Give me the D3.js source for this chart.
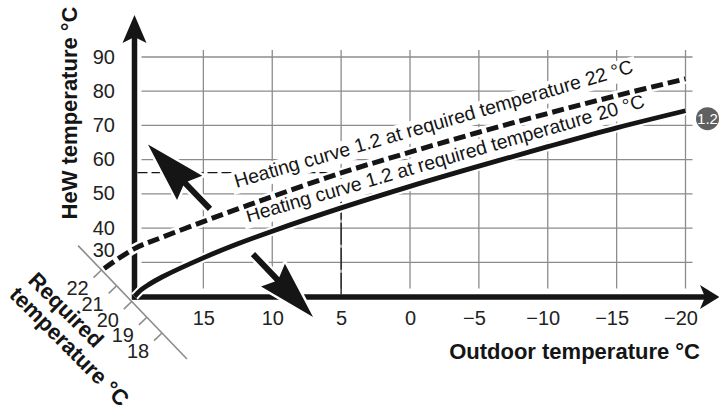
<!DOCTYPE html>
<html><head><meta charset="utf-8">
<script src="https://cdn.jsdelivr.net/npm/d3@7"></script>
<style>
html,body{margin:0;padding:0;background:#fff;}
svg{display:block;font-family:"Liberation Sans",Arial,Helvetica,sans-serif;}
</style></head><body>
<svg id="chart" width="719" height="410"></svg>
<script>
// ---- data ----
const outdoorTicks = [15, 10, 5, 0, -5, -10, -15, -20];
const flowTicks = [30, 40, 50, 60, 70, 80, 90];
const requiredTicks = [22, 21, 20, 19, 18];
const outdoor20 = [20, 19.5, 19, 18, 15, 12.5, 10, 5, 0, -5, -10, -15, -20];
const flow20 = [20, 22, 23.4, 25.7, 31.3, 35.4, 39.1, 45.9, 52.2, 58.1, 63.8, 69.3, 74.3];
const outdoor22 = [22.2, 20, 18, 15, 12.5, 10, 5, 0, -5, -10, -15, -20];
const flow22 = [28.2, 34, 37.3, 41.9, 45.6, 49.2, 56.1, 62.2, 68, 73.5, 78.7, 83.6];
const refOutdoor = 5, refFlow = 56.2;
const label22 = "Heating curve 1.2 at required temperature 22 °C";
const label20 = "Heating curve 1.2 at required temperature 20 °C";
const badgeText = "1.2";
const yTitle = "HeW temperature °C";
const xTitle = "Outdoor temperature °C";
const reqTitle1 = "Required", reqTitle2 = "temperature °C";

// ---- scales ----
const svg = d3.select("#chart");
const x = d3.scaleLinear().domain([20, -20]).range([134.5, 685.5]);
const y = d3.scaleLinear().domain([20, 90]).range([296.5, 57]);
const gridCol = "#8c8c8c", ink = "#151515";

// grid
const grid = svg.append("g");
grid.selectAll("line.h").data(flowTicks).join("line").attr("class","h")
  .attr("x1", x(20) + 7).attr("x2", x(-20) + 7)
  .attr("y1", d => y(d)).attr("y2", d => y(d))
  .attr("stroke", gridCol).attr("stroke-width", 1.3);
grid.selectAll("line.v").data(outdoorTicks).join("line").attr("class","v")
  .attr("x1", d => x(d)).attr("x2", d => x(d))
  .attr("y1", y(90) - 7).attr("y2", y(20) - 8)
  .attr("stroke", gridCol).attr("stroke-width", 1.3);

// reference dashed lines
svg.append("line").attr("x1", x(20) + 3).attr("x2", x(refOutdoor))
  .attr("y1", y(refFlow)).attr("y2", y(refFlow))
  .attr("stroke", ink).attr("stroke-width", 1.3).attr("stroke-dasharray", "10,4");
svg.append("line").attr("x1", x(refOutdoor)).attr("x2", x(refOutdoor))
  .attr("y1", y(refFlow)).attr("y2", y(20) - 2)
  .attr("stroke", ink).attr("stroke-width", 1.3).attr("stroke-dasharray", "22,3");

// axis tick labels
const yAx = svg.append("g").attr("transform", "translate(118,0)")
  .call(d3.axisLeft(y).tickValues(flowTicks).tickSize(0).tickPadding(3));
yAx.select(".domain").remove();
yAx.selectAll("text").attr("font-size", 20).attr("fill", "#222")
  .attr("font-family", "Liberation Sans, Arial, sans-serif")
  .attr("dy", d => d === 30 ? "-0.3em" : "0.3em");

const xAx = svg.append("g").attr("transform", "translate(0,311)")
  .call(d3.axisBottom(x).tickValues(outdoorTicks).tickSize(0).tickPadding(0)
    .tickFormat(d => d < 0 ? "\u2212" + Math.abs(d) : String(d)));
xAx.select(".domain").remove();
xAx.selectAll("text").attr("font-size", 20).attr("fill", "#222")
  .attr("font-family", "Liberation Sans, Arial, sans-serif")
  .attr("dx", d => d < 0 ? -5 : 0);

// curve labels with white boxes
function curveLabel(txt, x0, y0, ang) {
  const g = svg.append("g").attr("transform", `translate(${x0},${y0}) rotate(${ang})`);
  const rect = g.append("rect").attr("fill", "#fff");
  const t = g.append("text").attr("font-size", 19.4).attr("fill", ink).text(txt);
  const L = t.node().getComputedTextLength();
  rect.attr("x", -4).attr("y", -16).attr("width", L + 8).attr("height", 22);
}
curveLabel(label22, 236.5, 188, -16.2);
curveLabel(label20, 248, 222.5, -16.2);

// axes lines
const axW = 5.5;
svg.append("line").attr("x1", x(20)).attr("x2", x(20)).attr("y1", y(20) + 3).attr("y2", 36)
  .attr("stroke", ink).attr("stroke-width", axW);
svg.append("polygon").attr("fill", ink)
  .attr("points", [[x(20), 15], [x(20) - 12, 43], [x(20), 37], [x(20) + 12, 43]].join(" "));
svg.append("line").attr("x1", x(20) - 2.5).attr("x2", 706).attr("y1", y(20) + 0.5).attr("y2", y(20) + 0.5)
  .attr("stroke", ink).attr("stroke-width", axW);
svg.append("polygon").attr("fill", ink)
  .attr("points", [[719.5, y(20) + 0.5], [700, y(20) - 11.5], [705, y(20) + 0.5], [700, y(20) + 12.5]].join(" "));

// curves
const line = d3.line().x(d => x(d[0])).y(d => y(d[1])).curve(d3.curveCatmullRom.alpha(0.5));
const c22 = outdoor22.map((o, i) => [o, flow22[i]]);
const c20 = outdoor20.map((o, i) => [o, flow20[i]]);
svg.append("path").attr("d", line(c22)).attr("fill", "none").attr("stroke", "#fff").attr("stroke-width", 10);
svg.append("path").attr("d", line(c20)).attr("fill", "none").attr("stroke", "#fff").attr("stroke-width", 9);
svg.append("path").attr("d", line(c22)).attr("fill", "none").attr("stroke", ink)
  .attr("stroke-width", 5).attr("stroke-dasharray", "12,5");
svg.append("path").attr("d", line(c20)).attr("fill", "none").attr("stroke", ink)
  .attr("stroke-width", 4.8).attr("stroke-linejoin", "round");

// big arrows
function arrow(tail, tip, headLen, halfW, notch, sw) {
  const dx = tip[0] - tail[0], dy = tip[1] - tail[1], L = Math.hypot(dx, dy);
  const ux = dx / L, uy = dy / L, nx = -uy, ny = ux;
  const bx = tip[0] - ux * headLen, by = tip[1] - uy * headLen;
  const mx = tip[0] - ux * (headLen - notch), my = tip[1] - uy * (headLen - notch);
  const pts = [
    [tail[0] + nx * sw / 2, tail[1] + ny * sw / 2],
    [mx + nx * sw / 2, my + ny * sw / 2],
    [bx + nx * halfW, by + ny * halfW],
    tip,
    [bx - nx * halfW, by - ny * halfW],
    [mx - nx * sw / 2, my - ny * sw / 2],
    [tail[0] - nx * sw / 2, tail[1] - ny * sw / 2]
  ];
  svg.append("polygon").attr("points", pts.map(p => p.join(",")).join(" "))
    .attr("fill", ink).attr("stroke", "#fff").attr("stroke-width", 5)
    .attr("stroke-linejoin", "round").attr("paint-order", "stroke");
}
arrow([x(14.52), y(45.6)], [x(19.02), y(64.4)], 60, 17.5, 6, 6);
arrow([x(11.4), y(32.4)], [x(7.04), y(14.0)], 58, 16.5, 6, 6);

// required temperature diagonal scale
const o0 = [x(20), y(20)];
const p22 = [o0[0] - 33, o0[1] - 26.5], p18 = [o0[0] + 27.5, o0[1] + 36.5];
const rq = d3.scaleLinear().domain([22, 18]).range([0, 1]);
const P = r => [p22[0] + (p18[0] - p22[0]) * rq(r), p22[1] + (p18[1] - p22[1]) * rq(r)];
const a = P(23.55), b = P(16.35);
svg.append("line").attr("x1", a[0]).attr("y1", a[1]).attr("x2", b[0]).attr("y2", b[1])
  .attr("stroke", gridCol).attr("stroke-width", 1.6);
const ddx = p18[0] - p22[0], ddy = p18[1] - p22[1], dl = Math.hypot(ddx, ddy);
const nX = -ddy / dl, nY = ddx / dl;
svg.append("g").selectAll("line").data(requiredTicks).join("line")
  .attr("x1", d => P(d)[0]).attr("y1", d => P(d)[1])
  .attr("x2", d => P(d)[0] - Math.abs(nX) * 11).attr("y2", d => P(d)[1] + Math.abs(nY) * 11)
  .attr("stroke", gridCol).attr("stroke-width", 1.6);
svg.append("g").selectAll("text").data(requiredTicks).join("text")
  .attr("x", d => P(d)[0] - 24).attr("y", d => P(d)[1] + 18)
  .attr("text-anchor", "middle").attr("dominant-baseline", "central")
  .attr("font-size", 20).attr("fill", "#222").text(d => d);

svg.append("text").attr("transform", "translate(66,310) rotate(45)")
  .attr("text-anchor", "middle").attr("dominant-baseline", "central")
  .attr("font-size", 22).attr("font-weight", "bold").attr("fill", ink).text(reqTitle1);
svg.append("text").attr("transform", "translate(69.5,346.5) rotate(45)")
  .attr("text-anchor", "middle").attr("dominant-baseline", "central")
  .attr("font-size", 22).attr("font-weight", "bold").attr("fill", ink).text(reqTitle2);

// titles
svg.append("text").attr("transform", "translate(69,113) rotate(-90)")
  .attr("text-anchor", "middle").attr("dominant-baseline", "central")
  .attr("font-size", 22).attr("font-weight", "bold").attr("fill", ink).text(yTitle);
svg.append("text").attr("x", 700).attr("y", 359).attr("text-anchor", "end")
  .attr("font-size", 22).attr("font-weight", "bold").attr("fill", ink).text(xTitle);

// badge
const bx0 = x(-20) + 22, by0 = y(flow20[flow20.length - 1]) + 8;
svg.append("circle").attr("cx", bx0).attr("cy", by0).attr("r", 11.5).attr("fill", "#606060");
svg.append("text").attr("x", bx0).attr("y", by0).attr("text-anchor", "middle")
  .attr("dominant-baseline", "central").attr("font-size", 15).attr("fill", "#fff").text(badgeText);
</script>
</body></html>
